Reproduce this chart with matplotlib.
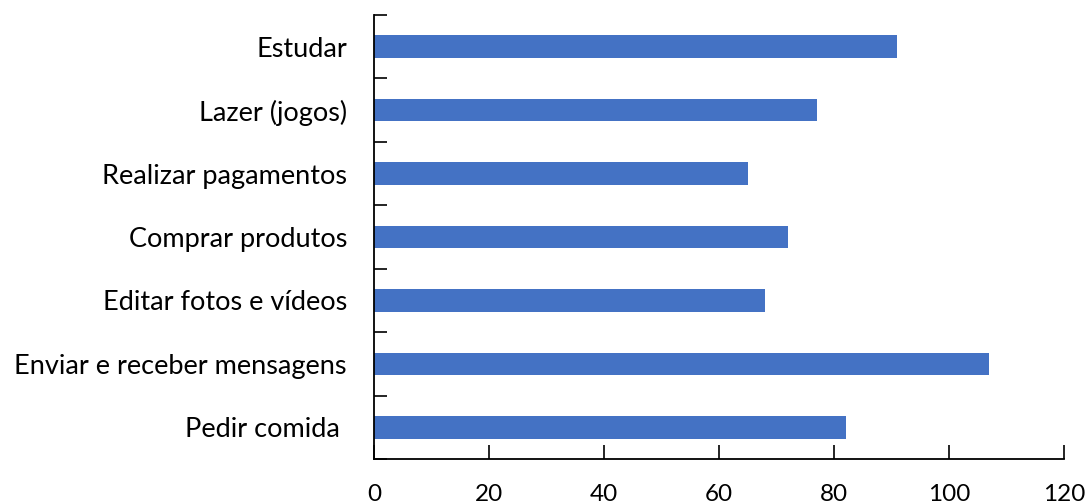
import matplotlib
matplotlib.use("Agg")
import matplotlib.pyplot as plt
import numpy as np

categories = [
    "Estudar",
    "Lazer (jogos)",
    "Realizar pagamentos",
    "Comprar produtos",
    "Editar fotos e vídeos",
    "Enviar e receber mensagens",
    "Pedir comida ",
]
values = [91, 77, 65, 72, 68, 107, 82]
x_ticks = [0, 20, 40, 60, 80, 100, 120]

plt.rcParams["font.family"] = ["Lato", "DejaVu Sans"]

fig = plt.figure(figsize=(10.91, 5.04), dpi=100)
ax = fig.add_axes([0.3428, 0.0893, 0.9753 - 0.3428, 0.9702 - 0.0893])

n = len(categories)
ypos = np.arange(n)[::-1]
ax.barh(ypos, values, height=0.355, color="#4472C4", zorder=2)

ax.set_xlim(0, 120)
ax.set_ylim(-0.5, n - 0.5)

ax.set_xticks(x_ticks)
ax.set_xticklabels([str(t) for t in x_ticks], fontsize=17.5)
ax.tick_params(axis="x", direction="in", length=10, width=1.2, pad=18, colors="black")

ax.set_yticks(ypos)
ax.set_yticklabels(categories, fontsize=19.5)
ax.tick_params(axis="y", which="major", length=0, pad=19.5)
ax.set_yticks(np.arange(-0.5, n, 1.0), minor=True)
ax.tick_params(axis="y", which="minor", direction="in", length=9, width=1.2)

for side in ("top", "right"):
    ax.spines[side].set_visible(False)
for side in ("left", "bottom"):
    ax.spines[side].set_linewidth(1.3)
    ax.spines[side].set_color("black")

fig.savefig("out.png", dpi=100)
